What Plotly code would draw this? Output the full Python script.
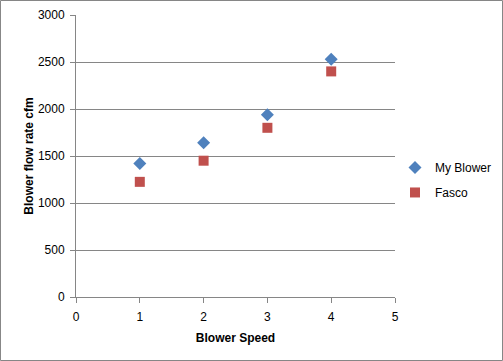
import plotly.graph_objects as go

speeds = [1, 2, 3, 4]
my_blower = [1420, 1640, 1940, 2530]
fasco = [1225, 1450, 1800, 2400]

series_names = ["My Blower", "Fasco"]
x_ticks = [0, 1, 2, 3, 4, 5]
y_ticks = [0, 500, 1000, 1500, 2000, 2500, 3000]

GRID = "#868686"
FONT = "Liberation Sans"

fig = go.Figure()
fig.add_trace(go.Scatter(x=speeds, y=my_blower, mode="markers", name=series_names[0],
                         legendgroup="a",
                         marker=dict(symbol="diamond", size=10, color="#4F81BD")))
fig.add_trace(go.Scatter(x=speeds, y=fasco, mode="markers", name=series_names[1],
                         legendgroup="b",
                         marker=dict(symbol="square", size=10, color="#C0504D")))

fig.update_layout(
    width=503, height=361,
    margin=dict(l=76, r=108, t=15, b=64, autoexpand=False),
    paper_bgcolor="white", plot_bgcolor="white",
    font=dict(family=FONT, size=12, color="black"),
    legend=dict(x=1.0, y=0.415, xanchor="left", yanchor="middle",
                font=dict(size=12), tracegroupgap=6, itemwidth=30),
    xaxis=dict(range=[0, 5], tickvals=x_ticks, showgrid=False, showline=True,
               linecolor=GRID, linewidth=1, ticks="outside", ticklen=5, tickcolor=GRID,
               zeroline=False, ticklabelstandoff=4,
               title=dict(text="<b>Blower Speed</b>", font=dict(size=12), standoff=10)),
    yaxis=dict(range=[0, 3000], tickvals=y_ticks, showgrid=True, gridcolor=GRID,
               gridwidth=1, showline=True, linecolor=GRID, linewidth=1,
               ticks="outside", ticklen=5, tickcolor=GRID, zeroline=False,
               ticklabelstandoff=3,
               title=dict(text="<b>Blower flow rate cfm</b>", font=dict(size=12), standoff=1)),
    shapes=[dict(type="rect", xref="paper", yref="paper",
                 x0=-0.2367, x1=1.337, y0=-0.2252, y1=1.0514,
                 line=dict(color="#868686", width=1), layer="below")],
)

fig.write_html("out.html", config={"displayModeBar": False},
               post_script="document.body.style.margin='0px';")
